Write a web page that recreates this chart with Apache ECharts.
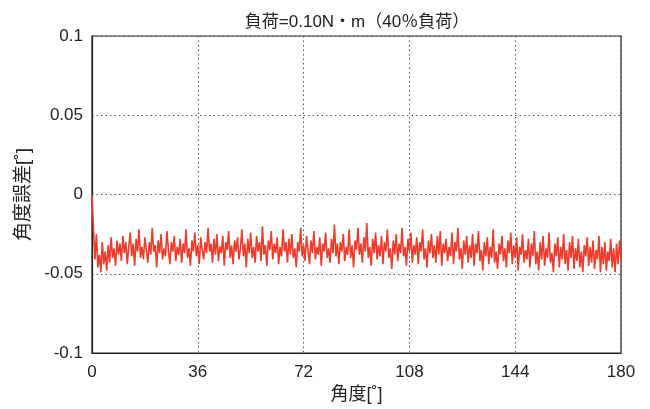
<!DOCTYPE html>
<html><head><meta charset="utf-8">
<script src="https://cdn.jsdelivr.net/npm/echarts@6/dist/echarts.min.js"></script>
<style>html,body{margin:0;padding:0;background:#fff}#c{width:650px;height:409px}</style>
</head><body><div id="c"></div>
<script>
const titleText = "負荷=0.10N・m（40％負荷）";
const xName = "角度[˚]";
const yName = "角度誤差[˚]";
const xStep = 0.5;
const xTicks = [0, 36, 72, 108, 144, 180];
const yTicks = [-0.1, -0.05, 0, 0.05, 0.1];
const errorValues = [
0, -0.022, -0.041, -0.025, -0.046, -0.038, -0.049, -0.030, -0.044, -0.036, -0.048, -0.032, -0.043, -0.027, -0.040, -0.034, -0.045, -0.029, -0.038, -0.031,
-0.042, -0.026, -0.037, -0.030, -0.044, -0.033, -0.024, -0.039, -0.031, -0.045, -0.028, -0.036, -0.022, -0.040, -0.033, -0.041, -0.027, -0.035, -0.043, -0.030,
-0.038, -0.021, -0.036, -0.032, -0.046, -0.029, -0.037, -0.025, -0.041, -0.034, -0.039, -0.023, -0.035, -0.044, -0.030, -0.036, -0.026, -0.042, -0.033, -0.038,
-0.028, -0.043, -0.031, -0.037, -0.022, -0.040, -0.034, -0.045, -0.029, -0.036, -0.024, -0.039, -0.032, -0.044, -0.027, -0.035, -0.041, -0.030, -0.037, -0.021,
-0.036, -0.031, -0.043, -0.028, -0.038, -0.025, -0.042, -0.033, -0.037, -0.026, -0.045, -0.030, -0.035, -0.023, -0.040, -0.032, -0.044, -0.029, -0.036, -0.027,
-0.041, -0.034, -0.022, -0.039, -0.031, -0.046, -0.028, -0.037, -0.024, -0.040, -0.033, -0.043, -0.026, -0.036, -0.030, -0.042, -0.020, -0.038, -0.032, -0.045,
-0.029, -0.035, -0.023, -0.041, -0.031, -0.037, -0.027, -0.044, -0.033, -0.039, -0.022, -0.036, -0.030, -0.043, -0.028, -0.038, -0.025, -0.040, -0.034, -0.046,
-0.030, -0.036, -0.021, -0.039, -0.032, -0.042, -0.026, -0.035, -0.044, -0.029, -0.037, -0.023, -0.041, -0.033, -0.038, -0.027, -0.045, -0.031, -0.036, -0.024,
-0.040, -0.034, -0.043, -0.028, -0.037, -0.019, -0.039, -0.031, -0.044, -0.030, -0.036, -0.025, -0.042, -0.033, -0.038, -0.022, -0.040, -0.032, -0.046, -0.029,
-0.035, -0.021, -0.038, -0.031, -0.043, -0.027, -0.036, -0.018, -0.040, -0.033, -0.045, -0.028, -0.037, -0.024, -0.041, -0.032, -0.039, -0.026, -0.044, -0.030,
-0.036, -0.022, -0.040, -0.034, -0.047, -0.029, -0.038, -0.025, -0.042, -0.031, -0.037, -0.021, -0.039, -0.033, -0.045, -0.028, -0.036, -0.024, -0.043, -0.032,
-0.038, -0.027, -0.044, -0.030, -0.036, -0.022, -0.041, -0.034, -0.046, -0.029, -0.037, -0.025, -0.040, -0.032, -0.043, -0.026, -0.038, -0.023, -0.045, -0.031,
-0.037, -0.028, -0.042, -0.033, -0.039, -0.024, -0.044, -0.030, -0.036, -0.021, -0.041, -0.034, -0.047, -0.029, -0.038, -0.026, -0.043, -0.032, -0.040, -0.025,
-0.045, -0.031, -0.037, -0.023, -0.042, -0.035, -0.048, -0.030, -0.039, -0.027, -0.044, -0.033, -0.040, -0.022, -0.043, -0.036, -0.047, -0.031, -0.038, -0.026,
-0.042, -0.034, -0.046, -0.029, -0.037, -0.024, -0.044, -0.032, -0.040, -0.027, -0.048, -0.033, -0.038, -0.025, -0.043, -0.035, -0.041, -0.028, -0.046, -0.031,
-0.039, -0.023, -0.044, -0.036, -0.048, -0.030, -0.041, -0.026, -0.045, -0.034, -0.040, -0.024, -0.043, -0.037, -0.049, -0.031, -0.039, -0.027, -0.046, -0.033,
-0.041, -0.025, -0.044, -0.035, -0.048, -0.030, -0.040, -0.026, -0.047, -0.034, -0.042, -0.028, -0.046, -0.036, -0.049, -0.032, -0.039, -0.027, -0.045, -0.033,
-0.043, -0.029, -0.047, -0.035, -0.041, -0.026, -0.049, -0.033, -0.044, -0.030, -0.048, -0.036, -0.042, -0.028, -0.046, -0.034, -0.049, -0.031, -0.044, -0.029,
-0.041
];
const seriesData = errorValues.map((v, i) => [i * xStep, v]);
const fontLatin = "'Liberation Sans', Arial, 'Noto Sans CJK JP', sans-serif";
const fontCJK = "'Liberation Sans', 'Noto Sans CJK JP', sans-serif";
const chart = echarts.init(document.getElementById('c'), null, {renderer: 'canvas'});
chart.setOption({
  animation: false,
  backgroundColor: '#fff',
  title: {
    text: titleText, left: 352, top: 9, textAlign: 'center',
    textStyle: {fontFamily: fontCJK, fontSize: 17, fontWeight: 'normal', color: '#222'}
  },
  grid: {left: 92, right: 29, top: 36, bottom: 55, show: true, borderColor: '#222', borderWidth: 1.2, backgroundColor: 'transparent'},
  xAxis: {
    type: 'value', min: xTicks[0], max: xTicks[xTicks.length - 1], interval: 36,
    name: xName, nameLocation: 'middle', nameGap: 33,
    nameTextStyle: {fontFamily: fontCJK, fontSize: 18, color: '#222'},
    axisLine: {show: true, onZero: false, lineStyle: {color: '#222', width: 1.2}},
    axisTick: {show: false},
    axisLabel: {fontFamily: fontLatin, fontSize: 17, color: '#222', margin: 11},
    splitLine: {show: true, lineStyle: {color: '#555', type: [1.5, 3], width: 1}}
  },
  yAxis: {
    type: 'value', min: yTicks[0], max: yTicks[yTicks.length - 1], interval: 0.05,
    name: yName, nameLocation: 'middle', nameGap: 56, nameRotate: 90,
    nameTextStyle: {fontFamily: fontCJK, fontSize: 19, color: '#222'},
    axisLine: {show: true, onZero: false, lineStyle: {color: '#222', width: 1.2}},
    axisTick: {show: false},
    axisLabel: {fontFamily: fontLatin, fontSize: 17, color: '#222', margin: 9},
    splitLine: {show: true, lineStyle: {color: '#555', type: [1.5, 3], width: 1}}
  },
  series: [{
    type: 'line', data: seriesData, showSymbol: false, symbol: 'none',
    lineStyle: {color: '#ee3b2b', width: 1.6}, z: 3
  }]
});
</script>
</body></html>
